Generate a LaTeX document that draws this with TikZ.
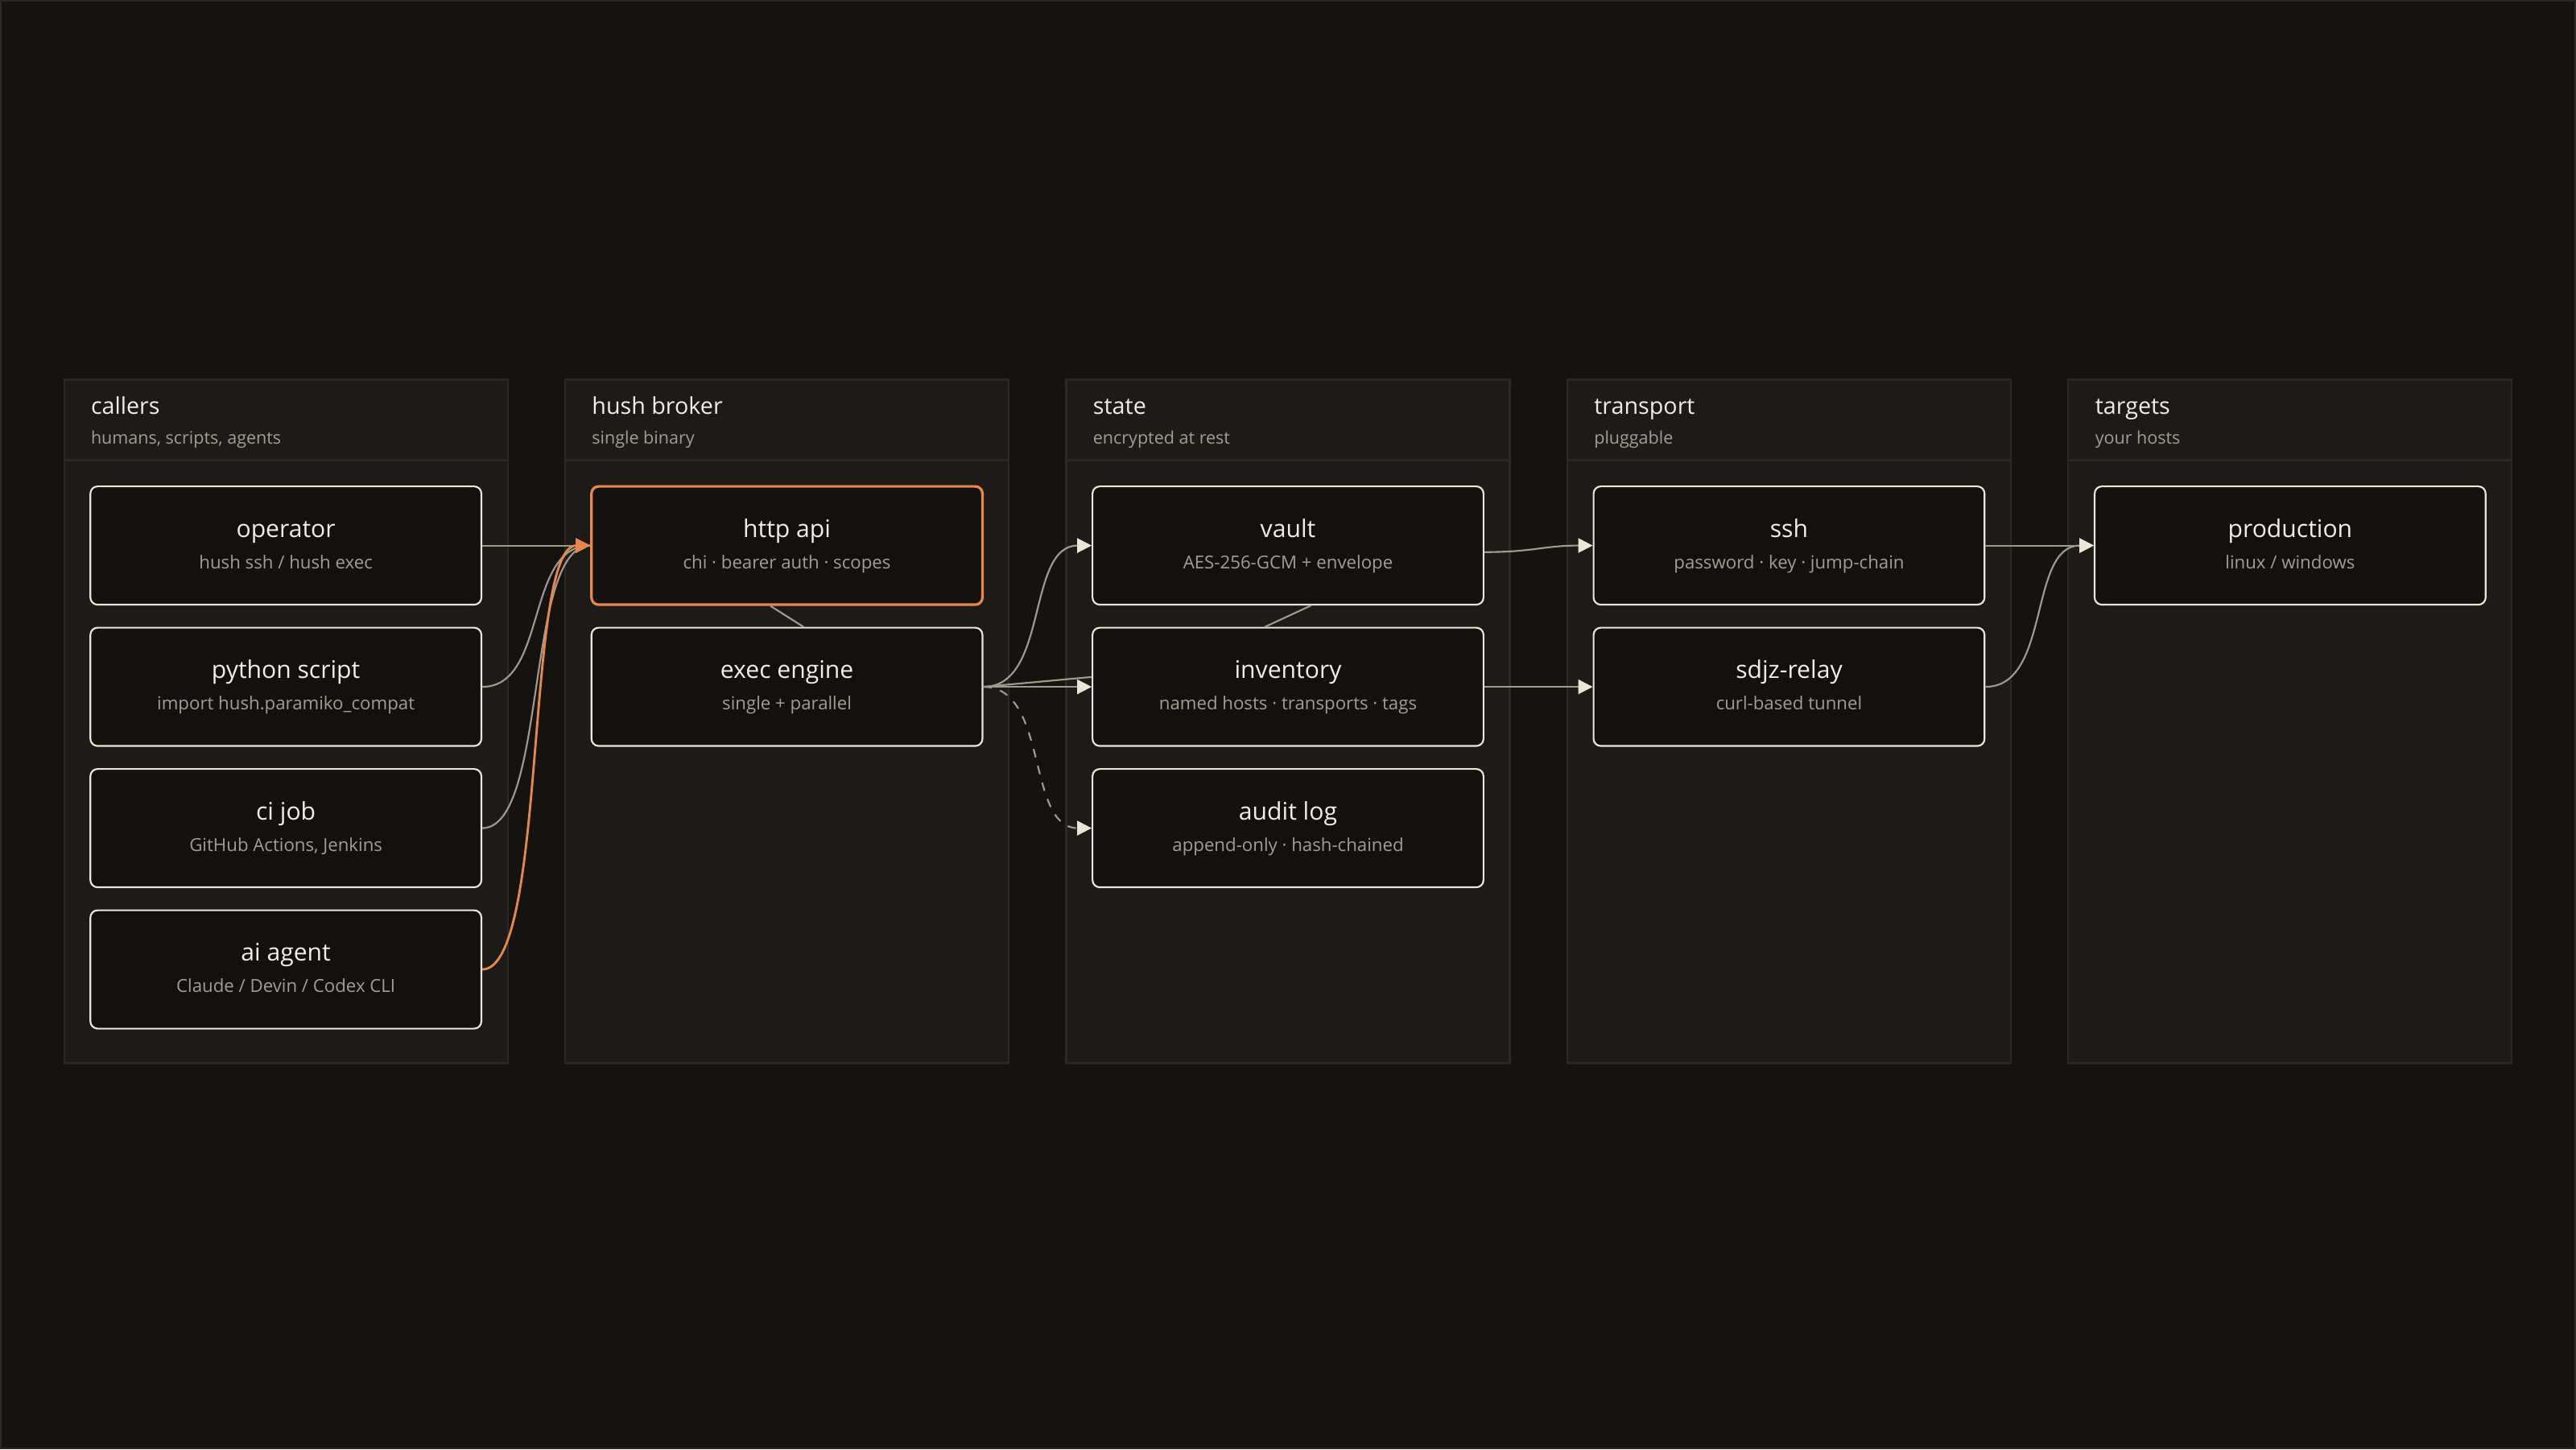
\documentclass[tikz,border=0pt]{standalone}
\usepackage{fontspec}
\setmainfont{Open Sans}
\usetikzlibrary{arrows.meta}
\definecolor{bgc}{HTML}{141310}
\definecolor{colc}{HTML}{1C1B18}
\definecolor{colb}{HTML}{2A2926}
\definecolor{boxc}{HTML}{12110F}
\definecolor{boxb}{HTML}{ECE6DA}
\definecolor{txt}{HTML}{F2EEE6}
\definecolor{sub}{HTML}{A39D92}
\definecolor{edge}{HTML}{A09A8E}
\definecolor{acc}{HTML}{E8874A}
\tikzset{
 x=0.02cm,y=-0.02cm,
 box/.style={draw=boxb,fill=boxc,line width=0.6pt,rounded corners=2.5pt,minimum width=238*0.02cm,minimum height=72*0.02cm,inner sep=0pt},
 colrect/.style={draw=colb,fill=colc,line width=0.6pt},
 ttl/.style={text=txt,font=\fontsize{8}{9}\selectfont,anchor=base west,inner sep=0pt},
 stl/.style={text=sub,font=\fontsize{6}{7}\selectfont,anchor=base west,inner sep=0pt},
 ed/.style={draw=edge,line width=0.6pt},
 arr/.style={ed,-{Triangle[length=5pt,width=5pt,fill=boxb,color=boxb]}},
}
\newcommand{\mybox}[5]{%
 \node[box,#5] (#1) at (#2) {};
 \node[text=txt,font=\fontsize{8.4}{9}\selectfont,inner sep=0pt,anchor=base] at ([yshift=0.1cm]#1.center) {#3};
 \node[text=sub,font=\fontsize{6.2}{7}\selectfont,inner sep=0pt,anchor=base] at ([yshift=-0.28cm]#1.center) {#4};}
\begin{document}
\begin{tikzpicture}
\fill[bgc] (0,0) rectangle (1568,882);
\draw[colb,line width=0.6pt] (0.5,0.5) rectangle (1567.5,881.5);
\foreach \x/\t/\s in {39/callers/{humans, scripts, agents},344/hush broker/single binary,649/state/encrypted at rest,954/transport/pluggable,1259/targets/your hosts}{
 \draw[colrect] (\x,231) rectangle (\x+270,647);
 \draw[colb,line width=0.6pt] (\x,280) -- (\x+270,280);
 \node[ttl] at (\x+16,252) {\t};
 \node[stl] at (\x+16,270) {\s};
}
\mybox{op}{174,332}{operator}{hush ssh / hush exec}{}
\mybox{py}{174,418}{python script}{import hush.paramiko\_compat}{}
\mybox{ci}{174,504}{ci job}{GitHub Actions, Jenkins}{}
\mybox{ai}{174,590}{ai agent}{Claude / Devin / Codex CLI}{}
\mybox{http}{479,332}{http api}{chi · bearer auth · scopes}{draw=acc,line width=0.9pt}
\mybox{exec}{479,418}{exec engine}{single + parallel}{}
\mybox{vault}{784,332}{vault}{AES-256-GCM + envelope}{}
\mybox{inv}{784,418}{inventory}{named hosts · transports · tags}{}
\mybox{audit}{784,504}{audit log}{append-only · hash-chained}{}
\mybox{ssh}{1089,332}{ssh}{password · key · jump-chain}{}
\mybox{relay}{1089,418}{sdjz-relay}{curl-based tunnel}{}
\mybox{prod}{1394,332}{production}{linux / windows}{}
% links
\draw[ed] ([xshift=-10*0.02cm]http.south) -- ([xshift=10*0.02cm]exec.north);
\draw[ed] ([xshift=14*0.02cm]vault.south) -- ([xshift=-14*0.02cm]inv.north);
\draw[ed] (py.east) .. controls +(40,0) and +(-40,0) .. (http.west);
\draw[ed] (ci.east) .. controls +(40,0) and +(-40,0) .. (http.west);
\draw[arr] (op.east) -- (http.west);
\draw[ed,draw=acc,line width=0.8pt,-{Triangle[length=5pt,width=5pt,fill=acc,color=acc]}] (ai.east) .. controls +(40,0) and +(-40,0) .. (http.west);
\draw[arr] (exec.east) .. controls +(40,0) and +(-40,0) .. (vault.west);
\draw[ed] (exec.east) -- ([yshift=6*0.02cm]inv.west);
\draw[arr] (exec.east) -- (inv.west);
\draw[arr,dashed] (exec.east) .. controls +(40,0) and +(-40,0) .. (audit.west);
\draw[arr] ([yshift=-4*0.02cm]vault.east) .. controls +(30,0) and +(-30,0) .. (ssh.west);
\draw[arr] (inv.east) -- (relay.west);
\draw[arr] (ssh.east) -- (prod.west);
\draw[arr] (relay.east) .. controls +(40,0) and +(-40,0) .. (prod.west);
\end{tikzpicture}
\end{document}
